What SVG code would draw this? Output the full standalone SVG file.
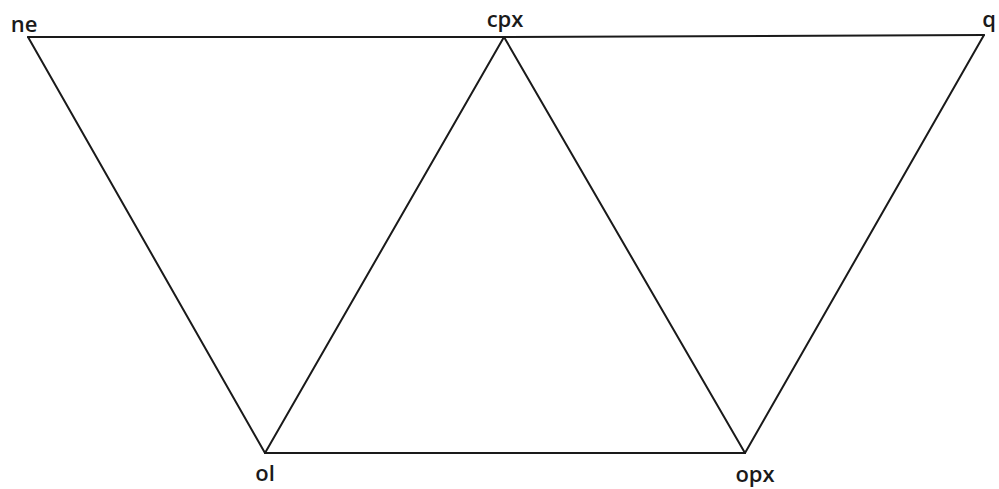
<svg xmlns="http://www.w3.org/2000/svg" width="999" height="489" viewBox="0 0 999 489">
<style>
.e{stroke:#1a1a1a;stroke-width:2;fill:none;stroke-linecap:round}
.l{font-family:"Open Sans","DejaVu Sans",sans-serif;font-size:22px;fill:#1a1a1a;font-weight:600}
</style>
<rect width="999" height="489" fill="#fff"/>
<g id="connectors">
<line class="e" x1="28" y1="37" x2="504" y2="37"/>
<line class="e" x1="504" y1="37" x2="984" y2="35"/>
<line class="e" x1="28" y1="37" x2="265" y2="453"/>
<line class="e" x1="265" y1="453" x2="504" y2="37"/>
<line class="e" x1="504" y1="37" x2="745" y2="453"/>
<line class="e" x1="265" y1="453" x2="745" y2="453"/>
<line class="e" x1="745" y1="453" x2="984" y2="35"/>
</g>
<g id="ne"><text class="l" x="24" y="32" text-anchor="middle">ne</text></g>
<g id="cpx"><text class="l" x="505" y="27" text-anchor="middle">cpx</text></g>
<g id="q"><text class="l" x="989" y="27" text-anchor="middle">q</text></g>
<g id="ol"><text class="l" x="265" y="481" text-anchor="middle">ol</text></g>
<g id="opx"><text class="l" x="755" y="482" text-anchor="middle">opx</text></g>
</svg>
